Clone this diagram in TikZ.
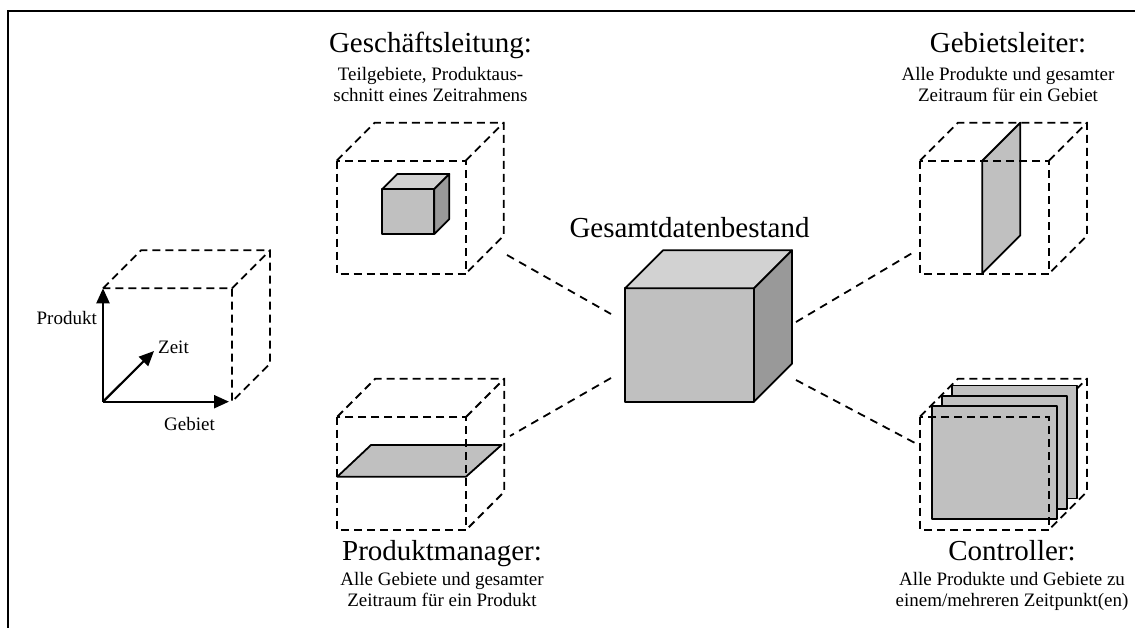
\documentclass[tikz,border=0pt]{standalone}
\usepackage{fontspec}
\setmainfont{Liberation Serif}
\usetikzlibrary{arrows.meta}
\definecolor{facefront}{RGB}{192,192,192}
\definecolor{facetop}{RGB}{210,210,210}
\definecolor{faceside}{RGB}{153,153,153}

% solid shaded cube: name, front top-left x, y, width, height, depth
\newcommand\graycube[6]{%
  \coordinate (#1) at (#2,#3);
  \filldraw[edge, fill=facefront] (#2,#3) rectangle (#2+#4,#3+#5);
  \filldraw[edge, fill=facetop] (#2,#3) -- (#2+#6,#3-#6) -- (#2+#4+#6,#3-#6) -- (#2+#4,#3) -- cycle;
  \filldraw[edge, fill=faceside] (#2+#4,#3) -- (#2+#4+#6,#3-#6) -- (#2+#4+#6,#3+#5-#6) -- (#2+#4,#3+#5) -- cycle;
}

\begin{document}
\begin{tikzpicture}[x=1pt,y=-1pt,
  wire/.style={dash pattern=on 8pt off 5pt, line width=1.8pt},
  edge/.style={line width=1.8pt, line join=round},
  axis/.style={line width=2.2pt, -{Triangle[length=15pt,width=13pt]}},
  link/.style={dash pattern=on 8pt off 6pt, line width=1.8pt},
  big/.style={font=\fontsize{29}{33}\selectfont, inner sep=0pt, anchor=base},
  small/.style={font=\fontsize{19}{22}\selectfont, inner sep=0pt, anchor=base},
  cubeback/.pic={
    \draw[wire] (0,0) -- (38,-38) -- (167,-38) -- (167,75) -- (129,113);
    \draw[wire] (129,0) -- (167,-38);
  },
  cubefront/.pic={\draw[wire] (0,0) rectangle (129,113);},
]
\useasboundingbox (0,0) rectangle (1135,628);

% frame
\draw[line width=2pt] (8,628) -- (8,11) -- (1135,11);

% ---------- axis cube ----------
\coordinate (o) at (103,401.7);
\coordinate (ptop) at (103,288.3);
\coordinate (gright) at (229,401.7);
\coordinate (ztip) at (154,351);
\draw[wire] (103,288.3) -- (141,250.3) -- (270,250.3) -- (270,363.7) -- (232,401.7) -- (232,288.3) -- (103,288.3);
\draw[wire] (232,288.3) -- (270,250.3);
\draw[axis] (o) -- (ptop);
\draw[axis] (o) -- (gright);
\draw[axis] (o) -- (ztip);
\node[small, anchor=base east] (lprod) at (97,324) {Produkt};
\node[small, anchor=base west] (lzeit) at (158,353) {Zeit};
\node[small, anchor=base west] (lgeb) at (164,430) {Gebiet};

% ---------- Geschäftsleitung ----------
\pic (gl) at (336.7,160.7) {cubeback};
\graycube{glcube}{382.3}{189}{52}{45}{15}
\pic (glf) at (336.7,160.7) {cubefront};
\node[big] (glt) at (430.5,53) {Geschäftsleitung:};
\node[small] (gl1) at (430.5,81) {Teilgebiete, Produktaus-};
\node[small] (gl2) at (430.5,102) {schnitt eines Zeitrahmens};

% ---------- Gebietsleiter ----------
\pic (gb) at (920,160.7) {cubeback};
\filldraw[edge, fill=facefront] (982.3,273.3) -- (982.3,160.7) -- (1020.3,122.7) -- (1020.3,235.3) -- cycle;
\pic (gbf) at (920,160.7) {cubefront};
\node[big] (gbt) at (1008,53) {Gebietsleiter:};
\node[small] (gb1) at (1008,81) {Alle Produkte und gesamter};
\node[small] (gb2) at (1008,102) {Zeitraum für ein Gebiet};

% ---------- Gesamtdatenbestand ----------
\graycube{center}{625}{288.3}{129}{113.4}{38}
\node[big] (ct) at (689.5,238) {Gesamtdatenbestand};

% ---------- Produktmanager ----------
\pic (pm) at (337.3,416.7) {cubeback};
\filldraw[edge, fill=facefront] (337.3,476.7) -- (466,476.7) -- (501.5,445) -- (371,445) -- cycle;
\pic (pmf) at (337.3,416.7) {cubefront};
\node[big] (pmt) at (442,560) {Produktmanager:};
\node[small] (pm1) at (442,585) {Alle Gebiete und gesamter};
\node[small] (pm2) at (442,606) {Zeitraum für ein Produkt};

% ---------- Controller ----------
\pic (ct) at (920,416.7) {cubeback};
\filldraw[edge, fill=facefront] (952.3,385.5) rectangle (1076.7,498.5);
\filldraw[edge, fill=facefront] (942.3,396) rectangle (1066.7,509);
\filldraw[edge, fill=facefront] (932.3,406.3) rectangle (1056.7,519.3);
\pic (ctf) at (920,416.7) {cubefront};
\node[big] (ctt) at (1012,560) {Controller:};
\node[small] (ct1) at (1012,585) {Alle Produkte und Gebiete zu};
\node[small] (ct2) at (1012,606) {einem/mehreren Zeitpunkt(en)};

% ---------- dashed links ----------
\coordinate (lA) at (507,255);  \coordinate (cA) at (611,314);
\coordinate (lB) at (510,436);  \coordinate (cB) at (611,378);
\coordinate (lC) at (914,252);  \coordinate (cC) at (796,322);
\coordinate (lD) at (915,443);  \coordinate (cD) at (796,380);
\draw[link] (lA) -- (cA);
\draw[link] (cB) -- (lB);
\draw[link] (cC) -- (lC);
\draw[link] (cD) -- (lD);
\end{tikzpicture}
\end{document}
